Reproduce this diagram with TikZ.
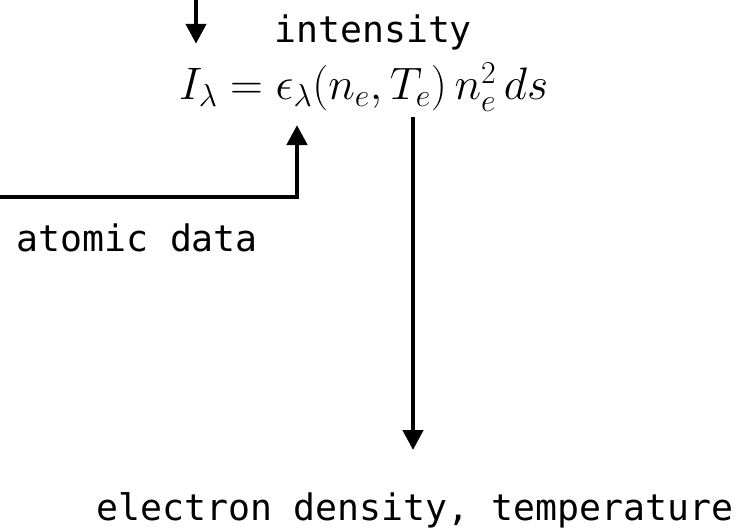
\documentclass[tikz,border=0pt]{standalone}
\usepackage{fix-cm}
\usepackage{amsmath}
\usepackage{fontspec}
\setmonofont{DejaVu Sans Mono}
\usetikzlibrary{arrows.meta, calc}
\tikzset{
  flow/.style={-{Triangle[length=20pt,width=20pt]}, line width=4.5pt, draw=black},
  tag/.style={font=\ttfamily\fontsize{36.5}{40}\selectfont, inner sep=0pt, anchor=base west},
}
\begin{document}
\begin{tikzpicture}[x=1pt, y=-1pt]
\useasboundingbox (0,0) rectangle (755,529);

% ---- emission measure equation ----
\node[inner sep=0pt, anchor=base west, font=\fontsize{45.5}{52}\selectfont] (eq) at (179,100)
   {$I_\lambda = \epsilon_\lambda(n_e, T_e)\, n_e^2 \, ds$};

% ---- labels ----
\node[tag] (int)  at (274,43)  {intensity};
\node[tag] (atom) at (16,252)  {atomic data};
\node[tag] (dens) at (96,520)  {electron density, temperature};

% ---- free arrow ends ----
\coordinate (obs)  at (196,0);
\coordinate (lab)  at (0,197);
\coordinate (diag) at (413,450);

\draw[flow, shorten >=19pt]   (obs) -- (obs |- eq.north);
\draw[flow, shorten >=13.5pt] (lab) -| ($(eq.south west)+(118,0)$);
\draw[flow, shorten <=5.5pt]  (diag |- eq.south) -- (diag);

\end{tikzpicture}
\end{document}
